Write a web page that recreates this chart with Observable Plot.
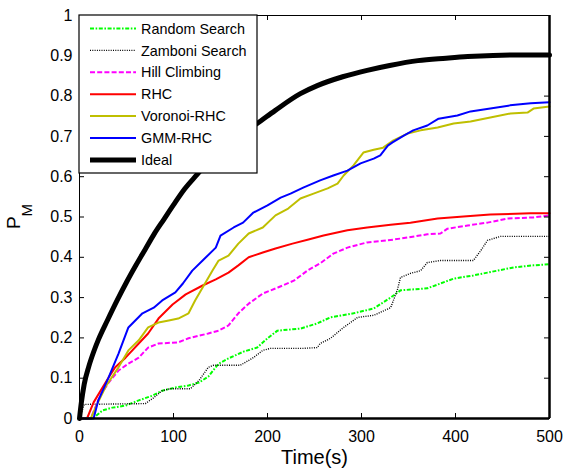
<!DOCTYPE html>
<html>
<head>
<meta charset="utf-8">
<script src="https://cdn.jsdelivr.net/npm/d3@7"></script>
<script src="https://cdn.jsdelivr.net/npm/@observablehq/plot@0.6"></script>
<style>
  html, body { margin: 0; padding: 0; background: #fff; }
  svg { display: block; }
</style>
</head>
<body>
<div id="chart"></div>
<script>
// ---- data ----
const seriesNames = ["Random Search", "Zamboni Search", "Hill Climbing", "RHC", "Voronoi-RHC", "GMM-RHC", "Ideal"];

const randomT = [0, 14, 24.5, 35, 49, 63, 78, 88, 102, 116, 127, 137, 148, 158.5, 174.5, 189, 200, 210.6, 235, 253, 267, 291.5, 313, 331, 341.5, 370, 384, 398, 419, 434, 462, 483, 500];
const randomP = [0, 0, 0.02, 0.027, 0.032, 0.045, 0.057, 0.069, 0.077, 0.082, 0.089, 0.104, 0.136, 0.149, 0.166, 0.176, 0.199, 0.218, 0.223, 0.236, 0.251, 0.261, 0.273, 0.300, 0.318, 0.323, 0.335, 0.347, 0.355, 0.362, 0.375, 0.380, 0.383];

const zamboniT = [0, 5, 70, 78, 88, 97, 118, 127, 137, 142.5, 171, 185, 195, 203, 238, 253, 256, 267, 281, 296, 313, 331, 338, 341.5, 352, 363, 370, 384, 419, 427, 434, 448, 500];
const zamboniP = [0, 0.035, 0.037, 0.05, 0.069, 0.074, 0.074, 0.094, 0.127, 0.132, 0.132, 0.151, 0.169, 0.174, 0.174, 0.176, 0.186, 0.199, 0.226, 0.251, 0.256, 0.275, 0.318, 0.350, 0.360, 0.367, 0.387, 0.392, 0.392, 0.417, 0.442, 0.452, 0.452];

const hillT = [0, 12, 22, 31, 41.5, 52, 63, 73, 84, 105, 116, 137, 148, 158.5, 169, 180, 195, 211, 228, 242.5, 256, 270, 285, 306, 328, 349, 370, 384, 391.5, 413, 434, 455, 483, 500];
const hillP = [0, 0, 0.057, 0.089, 0.119, 0.136, 0.151, 0.176, 0.186, 0.189, 0.199, 0.211, 0.218, 0.231, 0.261, 0.285, 0.310, 0.325, 0.342, 0.367, 0.385, 0.409, 0.424, 0.437, 0.442, 0.449, 0.457, 0.459, 0.471, 0.479, 0.486, 0.496, 0.499, 0.504];

const rhcT = [0, 8, 15, 24.5, 31, 38, 49, 63, 73, 84, 99, 113, 131, 145, 158.5, 169, 180, 195, 208.5, 226.6, 243.6, 259.6, 285, 306, 331, 352, 381, 408.5, 437, 480, 500];
const rhcP = [0, 0, 0.040, 0.077, 0.102, 0.127, 0.151, 0.186, 0.211, 0.248, 0.283, 0.308, 0.330, 0.345, 0.362, 0.380, 0.400, 0.412, 0.422, 0.434, 0.444, 0.454, 0.467, 0.474, 0.481, 0.486, 0.496, 0.501, 0.506, 0.509, 0.509];

const voronoiT = [0, 12, 17, 28, 41.5, 52, 63, 73, 84, 95, 105, 116, 123, 131, 141.5, 148, 158.5, 169, 180, 195, 208.5, 222, 235, 249, 264, 274.5, 281, 291.5, 302, 313, 323, 334, 349, 363, 381, 398, 416, 437, 458.5, 476.6, 483, 500];
const voronoiP = [0, 0, 0.027, 0.08, 0.127, 0.169, 0.194, 0.226, 0.238, 0.243, 0.248, 0.261, 0.293, 0.325, 0.367, 0.392, 0.404, 0.434, 0.459, 0.474, 0.504, 0.521, 0.546, 0.558, 0.571, 0.583, 0.603, 0.628, 0.660, 0.667, 0.672, 0.690, 0.707, 0.715, 0.722, 0.732, 0.737, 0.747, 0.757, 0.759, 0.769, 0.774];

const gmmT = [0, 15, 20, 31, 41.5, 52, 67, 79, 88, 102, 110, 120, 131, 145, 150, 164, 174, 185, 200, 214, 224.5, 238, 256, 270, 285, 299, 313, 320, 328, 333, 345, 355, 370, 382, 402, 416, 437, 458, 480, 500];
const gmmP = [0, 0, 0.045, 0.102, 0.161, 0.226, 0.261, 0.275, 0.293, 0.313, 0.335, 0.367, 0.392, 0.424, 0.454, 0.474, 0.486, 0.511, 0.529, 0.548, 0.558, 0.573, 0.591, 0.603, 0.615, 0.633, 0.645, 0.653, 0.677, 0.685, 0.702, 0.715, 0.727, 0.744, 0.752, 0.762, 0.769, 0.777, 0.782, 0.785];

const idealT = [0, 2, 5, 10, 15, 20, 30, 40, 50, 60, 70, 80, 90, 100, 112, 125, 140, 160, 175, 189, 208, 235, 253, 280, 306, 330, 360, 390, 413, 440, 466, 500];
const idealP = [0, 0.04, 0.085, 0.13, 0.165, 0.195, 0.245, 0.293, 0.338, 0.38, 0.42, 0.46, 0.495, 0.53, 0.57, 0.605, 0.645, 0.685, 0.71, 0.732, 0.764, 0.806, 0.826, 0.848, 0.864, 0.876, 0.888, 0.894, 0.898, 0.901, 0.902, 0.902];

const xTicks = [0, 100, 200, 300, 400, 500];
const yTicks = [0, 0.1, 0.2, 0.3, 0.4, 0.5, 0.6, 0.7, 0.8, 0.9, 1];
const yTickLabels = ["0", "0.1", "0.2", "0.3", "0.4", "0.5", "0.6", "0.7", "0.8", "0.9", "1"];
const xLabel = "Time(s)";
const yLabelMain = "P";
const yLabelSub = "M";

// ---- styles ----
const colors = ["#00ff00", "#000000", "#ff00ff", "#ff0000", "#bfbf00", "#0000ff", "#000000"];
const widths = [2, 1.4, 2, 2, 2, 2, 5];
const dashes = ["4,1.6,1.6,1.6", "1,1.3", "5,2.2", null, null, null, null];
const curves = ["linear", "linear", "linear", "linear", "linear", "linear", "monotone-x"];

const tArrays = [randomT, zamboniT, hillT, rhcT, voronoiT, gmmT, idealT];
const pArrays = [randomP, zamboniP, hillP, rhcP, voronoiP, gmmP, idealP];

const series = seriesNames.map((name, i) => ({
  name, color: colors[i], width: widths[i], dash: dashes[i], curve: curves[i],
  data: tArrays[i].map((t, j) => ({t, p: pArrays[i][j]}))
}));

const W = 565, H = 473;
const mL = 79, mR = 16, mT = 15, mB = 55;
const innerW = W - mL - mR, innerH = H - mT - mB;
const tick = 5;
const FONT = "'Liberation Sans', Arial, sans-serif";

const chart = Plot.plot({
  width: W, height: H,
  marginLeft: mL, marginRight: mR, marginTop: mT, marginBottom: mB,
  style: {fontFamily: FONT, fontSize: "16px", color: "#000", background: "#fff"},
  x: {domain: [0, 500], label: null},
  y: {domain: [0, 1], label: null},
  marks: [
    ...series.map(s => Plot.line(s.data, {
      x: "t", y: "p", stroke: s.color, strokeWidth: s.width, curve: s.curve,
      strokeDasharray: s.dash ?? undefined, strokeLinejoin: "round", strokeLinecap: s.dash ? "butt" : "round"
    })),
    Plot.frame({stroke: "#000", strokeWidth: 1}),
    Plot.ruleY([0], {stroke: "#000", strokeWidth: 2.5}),
    Plot.ruleX([500], {stroke: "#000", strokeWidth: 2.5}),
    // inward ticks on all four sides
    Plot.ruleX(xTicks, {x: d => d, insetTop: innerH - tick, stroke: "#000"}),
    Plot.ruleX(xTicks, {x: d => d, insetBottom: innerH - tick, stroke: "#000"}),
    Plot.ruleY(yTicks, {y: d => d, insetRight: innerW - tick, stroke: "#000"}),
    Plot.ruleY(yTicks, {y: d => d, insetLeft: innerW - tick, stroke: "#000"}),
    Plot.axisX(xTicks, {tickSize: 0, tickPadding: 12, fontSize: 16}),
    Plot.axisY(yTicks, {tickSize: 0, tickPadding: 7, fontSize: 16, tickFormat: (d, i) => yTickLabels[i]}),
    Plot.text([xLabel], {frameAnchor: "bottom", dy: 45, fontSize: 20, text: d => d})
  ]
});

document.getElementById("chart").appendChild(chart);

// y-axis label with subscript
const svg = d3.select(chart);
const yl = svg.append("text")
  .attr("transform", `translate(19.5, ${mT + innerH / 2}) rotate(-90)`)
  .attr("text-anchor", "middle")
  .style("font-family", FONT)
  .attr("fill", "#000");
yl.append("tspan").style("font-size", "19px").text(yLabelMain);
yl.append("tspan").style("font-size", "15px").attr("dy", 12).text(yLabelSub);

// legend (boxed, top-left inside the axes)
const lg = svg.append("g").style("font-family", FONT).style("font-size", "14.4px").attr("text-anchor", "start");
lg.append("rect").attr("x", mL).attr("y", mT).attr("width", 178).attr("height", 158)
  .attr("fill", "#fff").attr("stroke", "#000").attr("stroke-width", 1.2);
series.forEach((s, i) => {
  const y = mT + 13.5 + i * 21.9;
  lg.append("line").attr("x1", mL + 11).attr("x2", mL + 57).attr("y1", y).attr("y2", y)
    .attr("stroke", s.color).attr("stroke-width", s.width)
    .attr("stroke-dasharray", s.dash).attr("stroke-linecap", "butt");
  lg.append("text").attr("x", mL + 62).attr("y", y).attr("dy", "0.36em")
    .attr("text-anchor", "start").style("font-size", "14.4px").attr("fill", "#000").text(s.name);
});
</script>
</body>
</html>
